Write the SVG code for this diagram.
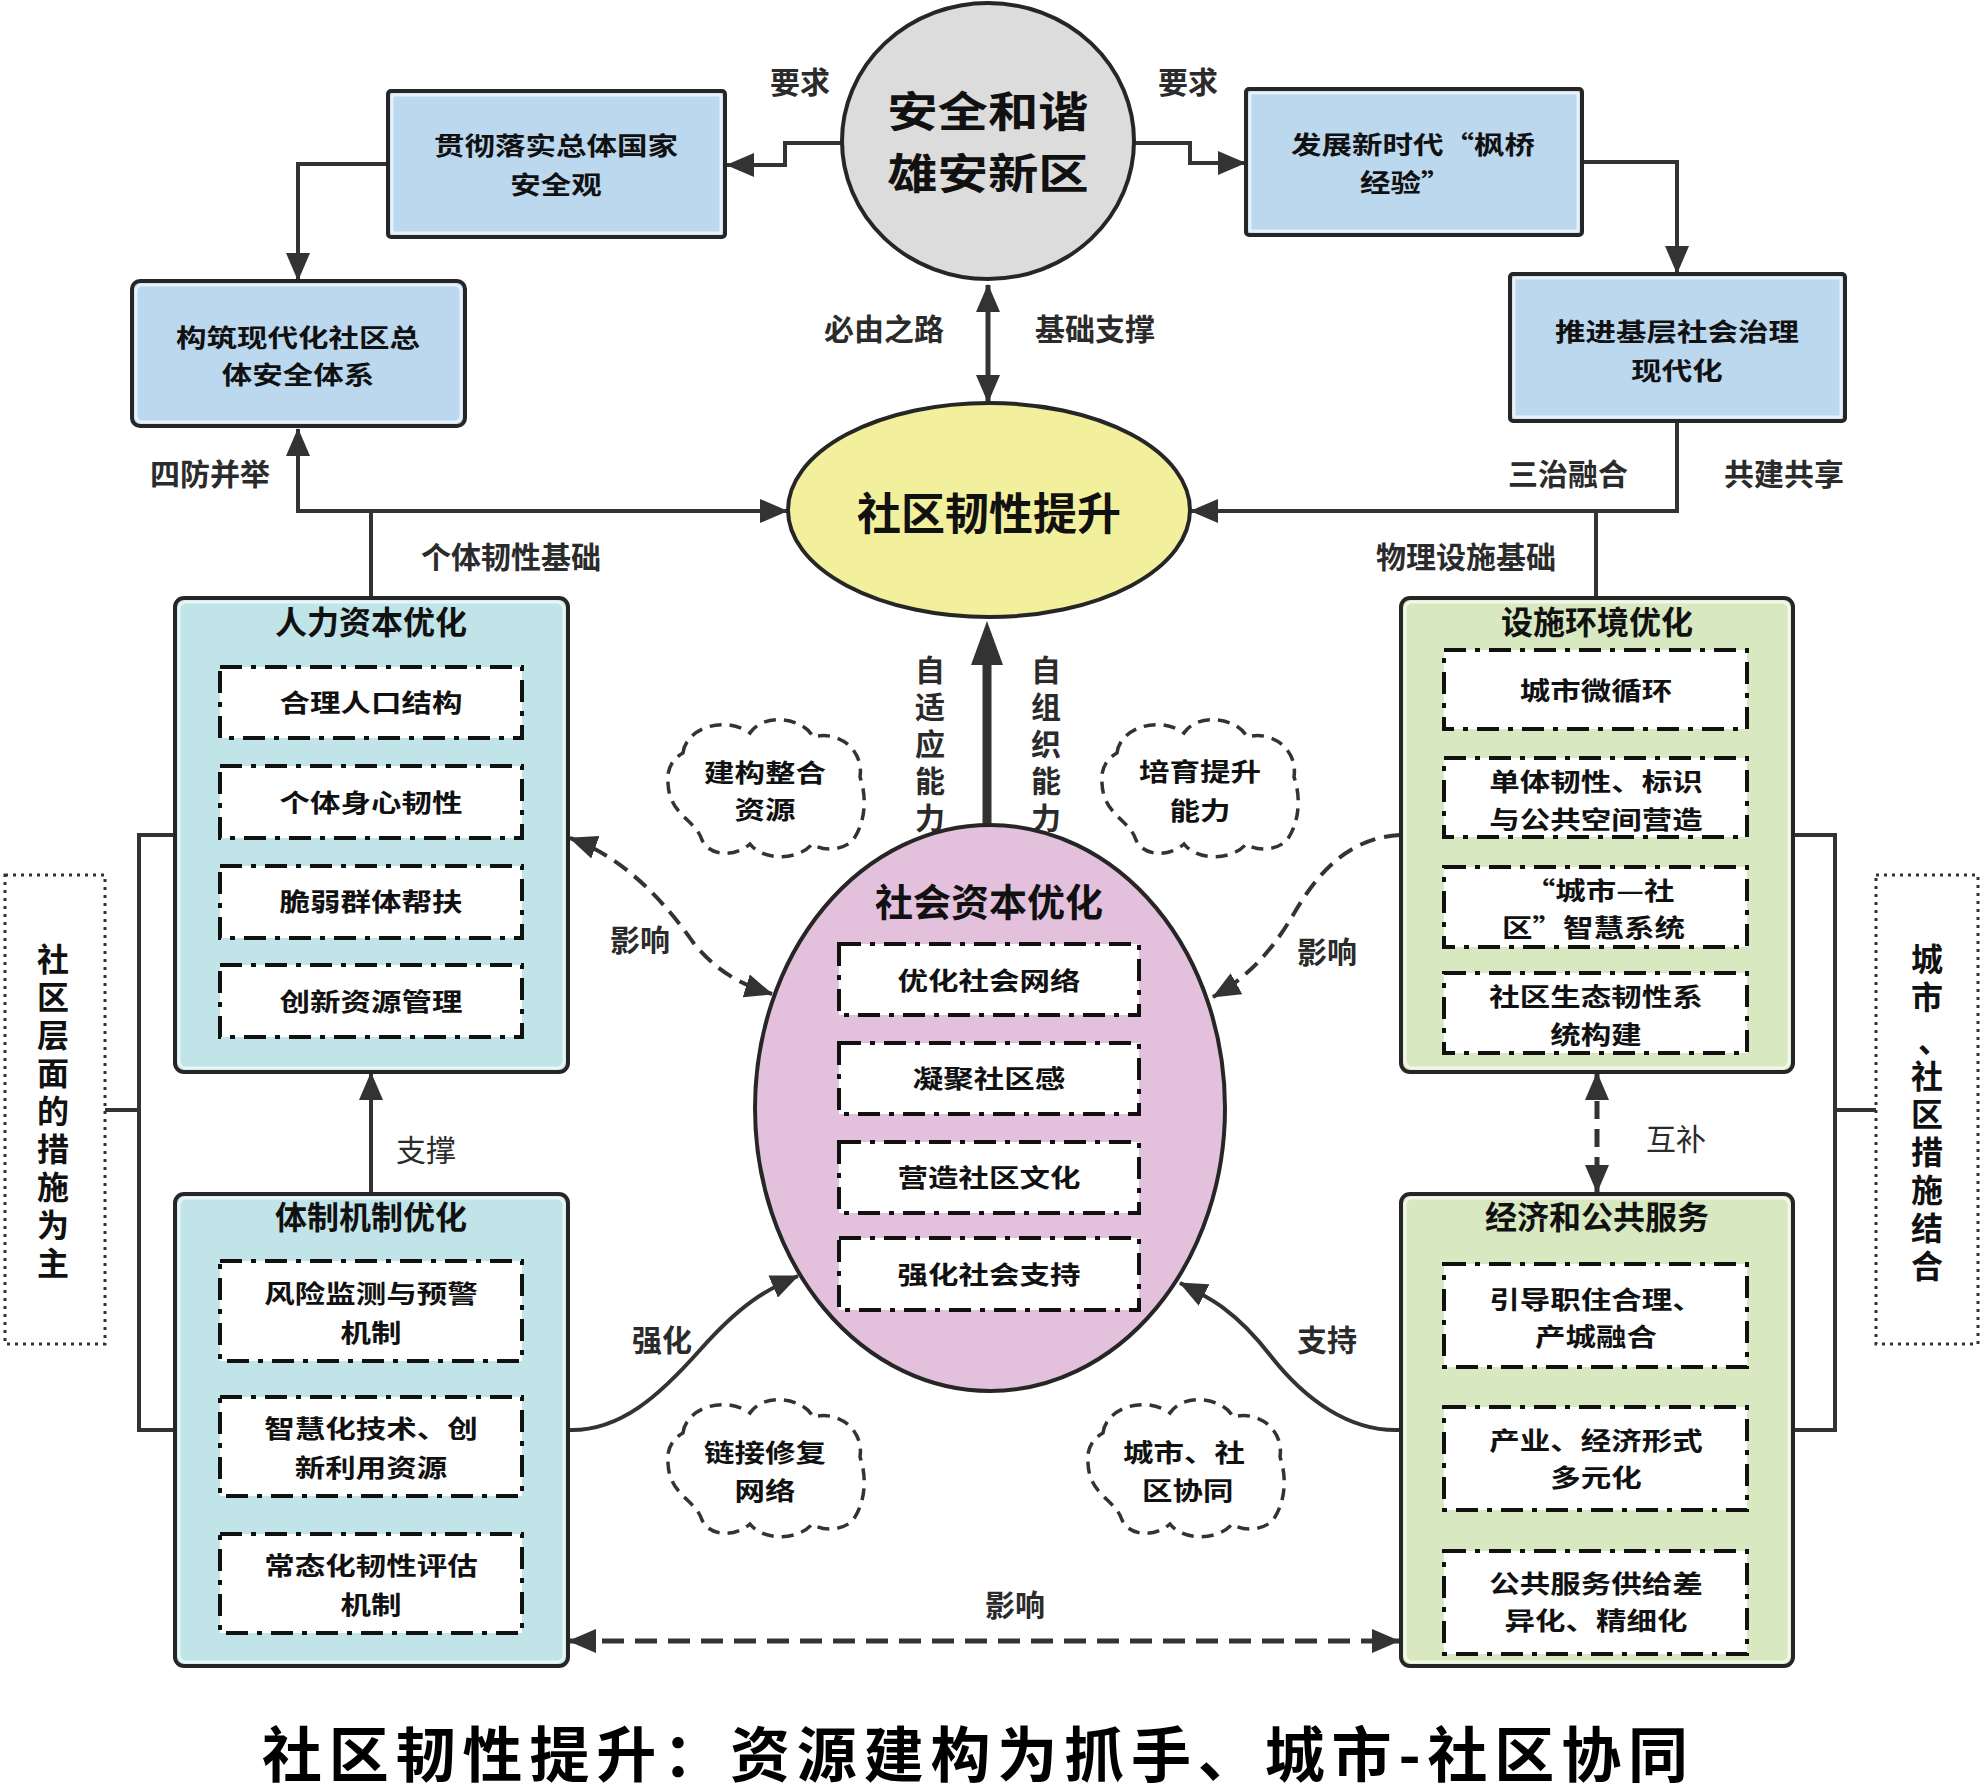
<svg xmlns="http://www.w3.org/2000/svg" width="1983" height="1791" viewBox="0 0 1983 1791">
<style>
text{font-family:'Noto Sans CJK SC','Noto Sans',sans-serif;fill:#111;text-anchor:middle}
.b{font-weight:700}
.t30{font-size:25px;font-weight:700}
.lbl{font-size:30px;font-weight:700;fill:#2b2b2b}
.lbln{font-size:30px;font-weight:400;fill:#2b2b2b}
.ttl{font-size:32px;font-weight:700}
.vert{writing-mode:vertical-rl;text-anchor:start}
.ln{fill:none;stroke:#333;stroke-width:4}
.dash{fill:none;stroke:#333;stroke-width:5;stroke-dasharray:22 11}
.inner{fill:#fff;stroke:#111;stroke-width:4;stroke-dasharray:22 9 5 9}
.frame{stroke:#262626;stroke-width:4}
.glow{fill:none;stroke:#fff;stroke-opacity:0.65;stroke-width:3}
.cloud{fill:#fff;stroke:#333;stroke-width:3.5;stroke-dasharray:12 8}
.dot{fill:#fff;stroke:#333;stroke-width:3;stroke-dasharray:3 5}
</style>
<defs>
<marker id="ah" viewBox="0 0 28 24" refX="27" refY="12" markerWidth="28" markerHeight="24" markerUnits="userSpaceOnUse" orient="auto-start-reverse"><path d="M0,0 L28,12 L0,24 Z" fill="#333"/></marker>
<marker id="ahBig" viewBox="0 0 44 32" refX="0" refY="16" markerWidth="44" markerHeight="32" markerUnits="userSpaceOnUse" orient="auto"><path d="M0,0 L44,16 L0,32 Z" fill="#333"/></marker>
<path id="cloudShape" d="M-81,-37 C-78,-62 -40,-75 -14,-57 C0,-78 40,-72 49,-53 C75,-60 100,-40 96,-13 C104,10 100,35 89,50 C80,60 60,62 48,54 C35,70 0,72 -14,54 C-30,68 -55,66 -62,50 C-68,30 -95,25 -96,-7 C-98,-22 -90,-32 -81,-37 Z"/>
</defs>
<rect width="1983" height="1791" fill="#fff"/>

<g id="connectors">
  <path class="ln" d="M842,143 H785 V165 H727" marker-end="url(#ah)"/>
  <text class="lbl" x="800" y="93">要求</text>
  <path class="ln" d="M1134,143 H1190 V163 H1245" marker-end="url(#ah)"/>
  <text class="lbl" x="1188" y="93">要求</text>
  <path class="ln" d="M388,164 H298 V280" marker-end="url(#ah)"/>
  <path class="ln" d="M1582,162 H1677 V273" marker-end="url(#ah)"/>
  <path class="ln" style="stroke-width:5" d="M988,285 V402" marker-start="url(#ah)" marker-end="url(#ah)"/>
  <text class="lbl" x="884" y="340">必由之路</text>
  <text class="lbl" x="1095" y="340">基础支撑</text>
  <path class="ln" d="M298,429 V511 H787" marker-start="url(#ah)" marker-end="url(#ah)"/>
  <path class="ln" d="M371,511 V598"/>
  <text class="lbl" x="210" y="485">四防并举</text>
  <text class="lbl" x="511" y="568">个体韧性基础</text>
  <path class="ln" d="M1677,421 V511 H1191" marker-end="url(#ah)"/>
  <path class="ln" d="M1596,511 V598"/>
  <text class="lbl" x="1568" y="485">三治融合</text>
  <text class="lbl" x="1784" y="485">共建共享</text>
  <text class="lbl" x="1466" y="568">物理设施基础</text>
  <path class="ln" style="stroke-width:9" d="M987,826 V665" marker-end="url(#ahBig)"/>
  <text class="lbl vert" x="930" y="655" style="letter-spacing:7px">自适应能力</text>
  <text class="lbl vert" x="1046" y="655" style="letter-spacing:7px">自组织能力</text>
  <path class="ln" d="M371,1193 V1073" marker-end="url(#ah)"/>
  <text class="lbln" x="426" y="1161">支撑</text>
  <path class="dash" style="stroke-dasharray:18 10" d="M1597,1073 V1192" marker-start="url(#ah)" marker-end="url(#ah)"/>
  <text class="lbln" x="1676" y="1150">互补</text>
  <path class="ln" d="M175,835 H139 V1430 H175 M105,1110 H139"/>
  <path class="ln" d="M1793,835 H1835 V1430 H1793 M1835,1110 H1876"/>
  <path class="dash" style="stroke-width:4;stroke-dasharray:16 9" d="M570,838 C625,858 665,902 695,945 C718,972 740,984 772,994" marker-start="url(#ah)" marker-end="url(#ah)"/>
  <text class="lbl" x="640" y="951">影响</text>
  <path class="dash" style="stroke-width:4;stroke-dasharray:16 9" d="M1400,835 C1350,838 1320,870 1296,910 C1276,945 1252,975 1213,997" marker-end="url(#ah)"/>
  <text class="lbl" x="1327" y="963">影响</text>
  <path class="ln" d="M568,1430 C620,1432 660,1395 700,1350 S765,1290 798,1276" marker-end="url(#ah)"/>
  <text class="lbl" x="662" y="1351">强化</text>
  <path class="ln" d="M1400,1430 C1350,1432 1305,1400 1270,1355 S1210,1298 1180,1283" marker-end="url(#ah)"/>
  <text class="lbl" x="1327" y="1351">支持</text>
  <path class="dash" d="M569,1641 H1399" marker-start="url(#ah)" marker-end="url(#ah)"/>
  <text class="lbl" x="1015" y="1616">影响</text>
</g>

<g id="node-xiongan">
  <ellipse cx="988" cy="141" rx="146" ry="138" fill="#dcdcdc" stroke="#262626" stroke-width="4"/>
  <text class="b" style="font-size:42px" transform="matrix(1.2 0 0 1 -197.6 0)"><tspan x="988" y="127">安全和谐</tspan><tspan x="988" y="189">雄安新区</tspan></text>
</g>

<g id="node-guanche">
  <rect x="388" y="91" width="337" height="146" rx="3" fill="#bcd8ef" class="frame"/>
  <rect x="392" y="95" width="329" height="138" rx="2" class="glow"/>
  <text class="t30" transform="matrix(1.22 0 0 1 -122.32 0)"><tspan x="556" y="155">贯彻落实总体国家</tspan><tspan x="556" y="194">安全观</tspan></text>
</g>

<g id="node-fengqiao">
  <rect x="1246" y="89" width="336" height="146" rx="3" fill="#bcd8ef" class="frame"/>
  <rect x="1250" y="93" width="328" height="138" rx="2" class="glow"/>
  <text class="t30" transform="matrix(1.22 0 0 1 -310.86 0)"><tspan x="1413" y="154">发展新时代“枫桥</tspan><tspan x="1407" y="192">经验”</tspan></text>
</g>

<g id="node-goujian">
  <rect x="132" y="281" width="333" height="145" rx="8" fill="#bcd8ef" class="frame"/>
  <rect x="136" y="285" width="325" height="137" rx="6" class="glow"/>
  <text class="t30" transform="matrix(1.22 0 0 1 -65.56 0)"><tspan x="298" y="347">构筑现代化社区总</tspan><tspan x="298" y="384">体安全体系</tspan></text>
</g>

<g id="node-tuijin">
  <rect x="1510" y="274" width="335" height="147" rx="3" fill="#bcd8ef" class="frame"/>
  <rect x="1514" y="278" width="327" height="139" rx="2" class="glow"/>
  <text class="t30" transform="matrix(1.22 0 0 1 -368.94 0)"><tspan x="1677" y="341">推进基层社会治理</tspan><tspan x="1677" y="380">现代化</tspan></text>
</g>

<g id="node-renxing">
  <ellipse cx="989" cy="510" rx="201" ry="107" fill="#f2ef9d" stroke="#262626" stroke-width="4"/>
  <text class="b" style="font-size:44px" x="989" y="530">社区韧性提升</text>
</g>

<g id="node-renli">
  <rect x="175" y="598" width="393" height="474" rx="9" fill="#c0e4e8" class="frame"/>
  <rect x="179" y="602" width="385" height="466" rx="7" class="glow"/>
  <text class="ttl" x="371" y="634">人力资本优化</text>
  <rect class="inner" x="220" y="667" width="302" height="71"/>
  <text class="t30" transform="matrix(1.22 0 0 1 -81.62 0)" x="371" y="712">合理人口结构</text>
  <rect class="inner" x="220" y="766" width="302" height="72"/>
  <text class="t30" transform="matrix(1.22 0 0 1 -81.62 0)" x="371" y="812">个体身心韧性</text>
  <rect class="inner" x="220" y="866" width="302" height="72"/>
  <text class="t30" transform="matrix(1.22 0 0 1 -81.62 0)" x="371" y="911">脆弱群体帮扶</text>
  <rect class="inner" x="220" y="965" width="302" height="72"/>
  <text class="t30" transform="matrix(1.22 0 0 1 -81.62 0)" x="371" y="1011">创新资源管理</text>
</g>

<g id="node-tizhi">
  <rect x="175" y="1194" width="393" height="472" rx="9" fill="#c0e4e8" class="frame"/>
  <rect x="179" y="1198" width="385" height="464" rx="7" class="glow"/>
  <text class="ttl" x="371" y="1229">体制机制优化</text>
  <rect class="inner" x="220" y="1261" width="302" height="100"/>
  <text class="t30" transform="matrix(1.22 0 0 1 -81.62 0)"><tspan x="371" y="1303">风险监测与预警</tspan><tspan x="371" y="1342">机制</tspan></text>
  <rect class="inner" x="220" y="1397" width="302" height="99"/>
  <text class="t30" transform="matrix(1.22 0 0 1 -81.62 0)"><tspan x="371" y="1438">智慧化技术、创</tspan><tspan x="371" y="1477">新利用资源</tspan></text>
  <rect class="inner" x="220" y="1534" width="302" height="99"/>
  <text class="t30" transform="matrix(1.22 0 0 1 -81.62 0)"><tspan x="371" y="1575">常态化韧性评估</tspan><tspan x="371" y="1614">机制</tspan></text>
</g>

<g id="node-sheshi">
  <rect x="1401" y="598" width="392" height="474" rx="9" fill="#d8e8c1" class="frame"/>
  <rect x="1405" y="602" width="384" height="466" rx="7" class="glow"/>
  <text class="ttl" x="1597" y="634">设施环境优化</text>
  <rect class="inner" x="1444" y="650" width="303" height="79"/>
  <text class="t30" transform="matrix(1.22 0 0 1 -351.12 0)" x="1596" y="700">城市微循环</text>
  <rect class="inner" x="1444" y="758" width="303" height="79"/>
  <text class="t30" transform="matrix(1.22 0 0 1 -351.12 0)"><tspan x="1596" y="791">单体韧性、标识</tspan><tspan x="1596" y="829">与公共空间营造</tspan></text>
  <rect class="inner" x="1444" y="867" width="303" height="80"/>
  <text class="t30" transform="matrix(1.22 0 0 1 -351.12 0)"><tspan x="1599" y="900">“城市—社</tspan><tspan x="1594" y="937">区”智慧系统</tspan></text>
  <rect class="inner" x="1444" y="973" width="303" height="80"/>
  <text class="t30" transform="matrix(1.22 0 0 1 -351.12 0)"><tspan x="1596" y="1006">社区生态韧性系</tspan><tspan x="1596" y="1044">统构建</tspan></text>
</g>

<g id="node-jingji">
  <rect x="1401" y="1194" width="392" height="472" rx="9" fill="#d8e8c1" class="frame"/>
  <rect x="1405" y="1198" width="384" height="464" rx="7" class="glow"/>
  <text class="ttl" x="1597" y="1229">经济和公共服务</text>
  <rect class="inner" x="1444" y="1264" width="303" height="103"/>
  <text class="t30" transform="matrix(1.22 0 0 1 -351.12 0)"><tspan x="1596" y="1309">引导职住合理、</tspan><tspan x="1596" y="1346">产城融合</tspan></text>
  <rect class="inner" x="1444" y="1407" width="303" height="103"/>
  <text class="t30" transform="matrix(1.22 0 0 1 -351.12 0)"><tspan x="1596" y="1450">产业、经济形式</tspan><tspan x="1596" y="1487">多元化</tspan></text>
  <rect class="inner" x="1444" y="1551" width="303" height="103"/>
  <text class="t30" transform="matrix(1.22 0 0 1 -351.12 0)"><tspan x="1596" y="1593">公共服务供给差</tspan><tspan x="1596" y="1630">异化、精细化</tspan></text>
</g>

<g id="node-shehui">
  <ellipse cx="990" cy="1108" rx="235" ry="283" fill="#e3c0dc" stroke="#262626" stroke-width="4"/>
  <text class="b" style="font-size:38px" x="989" y="916">社会资本优化</text>
  <rect class="inner" x="839" y="944" width="300" height="71"/>
  <text class="t30" transform="matrix(1.22 0 0 1 -217.58 0)" x="989" y="990">优化社会网络</text>
  <rect class="inner" x="839" y="1043" width="300" height="71"/>
  <text class="t30" transform="matrix(1.22 0 0 1 -217.58 0)" x="989" y="1088">凝聚社区感</text>
  <rect class="inner" x="839" y="1142" width="300" height="71"/>
  <text class="t30" transform="matrix(1.22 0 0 1 -217.58 0)" x="989" y="1187">营造社区文化</text>
  <rect class="inner" x="839" y="1238" width="300" height="72"/>
  <text class="t30" transform="matrix(1.22 0 0 1 -217.58 0)" x="989" y="1284">强化社会支持</text>
</g>

<g id="cloud-jiangou">
  <use href="#cloudShape" class="cloud" transform="translate(764,790)"/>
  <text class="t30" transform="matrix(1.22 0 0 1 -168.3 0)"><tspan x="765" y="782">建构整合</tspan><tspan x="765" y="819">资源</tspan></text>
</g>
<g id="cloud-peiyu">
  <use href="#cloudShape" class="cloud" transform="translate(1198,790)"/>
  <text class="t30" transform="matrix(1.22 0 0 1 -264 0)"><tspan x="1200" y="781">培育提升</tspan><tspan x="1200" y="820">能力</tspan></text>
</g>
<g id="cloud-lianjie">
  <use href="#cloudShape" class="cloud" transform="translate(764,1470)"/>
  <text class="t30" transform="matrix(1.22 0 0 1 -168.3 0)"><tspan x="765" y="1462">链接修复</tspan><tspan x="765" y="1500">网络</tspan></text>
</g>
<g id="cloud-xietong">
  <use href="#cloudShape" class="cloud" transform="translate(1184,1470)"/>
  <text class="t30" transform="matrix(1.22 0 0 1 -260.48 0)"><tspan x="1184" y="1462">城市、社</tspan><tspan x="1187" y="1500">区协同</tspan></text>
</g>

<g id="node-left-note">
  <rect class="dot" x="5" y="875" width="100" height="469"/>
  <text class="b vert" x="53" y="943" style="font-size:32px;letter-spacing:6px">社区层面的措施为主</text>
</g>
<g id="node-right-note">
  <rect class="dot" x="1876" y="875" width="102" height="469"/>
  <text class="b vert" x="1927" y="943" style="font-size:32px;letter-spacing:6px">城市</text>
  <text class="b" x="1934" y="1052" style="font-size:32px">、</text>
  <text class="b vert" x="1927" y="1060" style="font-size:32px;letter-spacing:6px">社区措施结合</text>
</g>

<text id="title" x="975" y="1777" style="font-size:60px;font-weight:700;fill:#000" textLength="1426" lengthAdjust="spacing">社区韧性提升：资源建构为抓手、城市-社区协同</text>
</svg>
